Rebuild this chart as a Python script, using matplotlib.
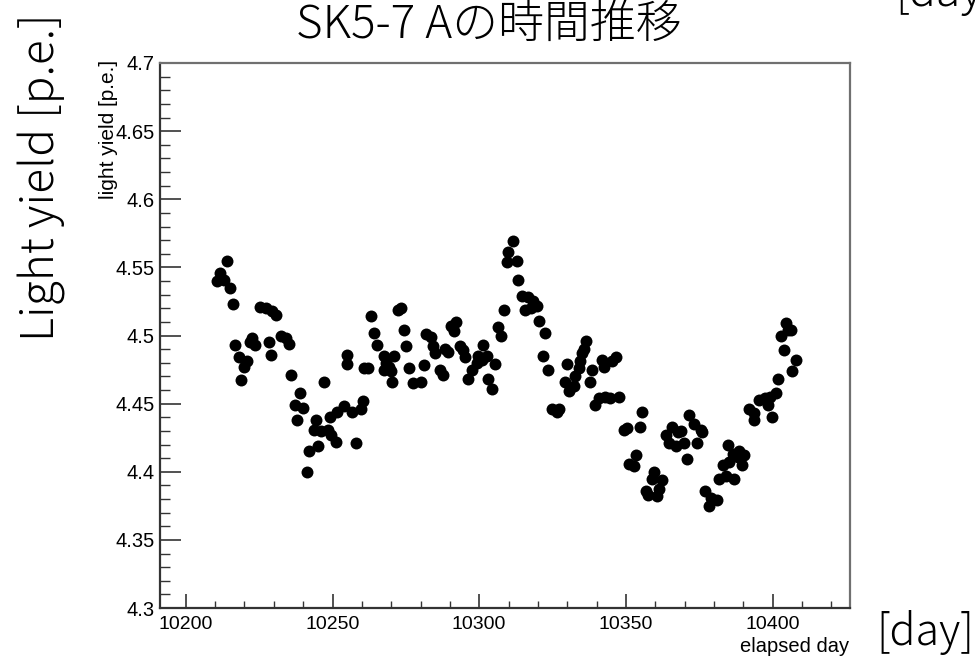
import matplotlib
matplotlib.use("Agg")
import matplotlib.pyplot as plt
from matplotlib.ticker import MultipleLocator, FuncFormatter

# elapsed day / light yield [p.e.] per measurement
days = [
    10210.6, 10211.7, 10213.1, 10214.0, 10214.9, 10216.0, 10216.9, 10218.0, 10218.8, 10219.7,
    10220.9, 10222.0, 10222.6, 10223.7, 10225.2, 10227.2, 10228.3, 10228.9, 10229.5, 10230.9,
    10232.3, 10234.3, 10235.1, 10236.0, 10237.2, 10238.0, 10238.9, 10240.1, 10241.2, 10242.0,
    10243.7, 10244.3, 10245.1, 10246.0, 10247.1, 10248.3, 10249.2, 10249.4, 10251.1, 10251.7,
    10254.0, 10254.9, 10255.1, 10256.8, 10258.0, 10259.7, 10260.3, 10260.8, 10262.0, 10263.1,
    10264.0, 10265.2, 10267.5, 10267.7, 10268.3, 10269.4, 10270.0, 10270.2, 10271.1, 10272.3,
    10273.4, 10274.3, 10275.1, 10276.2, 10277.4, 10280.2, 10281.2, 10282.0, 10283.7, 10284.2,
    10284.8, 10286.5, 10287.7, 10288.2, 10289.4, 10290.5, 10291.4, 10292.2, 10293.4, 10294.5,
    10295.1, 10296.2, 10297.4, 10299.1, 10299.7, 10300.8, 10301.4, 10302.5, 10303.1, 10304.2,
    10305.3, 10306.5, 10307.4, 10308.6, 10309.4, 10309.9, 10311.6, 10312.8, 10313.4, 10314.5,
    10315.6, 10316.8, 10317.7, 10318.5, 10319.6, 10320.4, 10321.6, 10322.5, 10323.4, 10324.8,
    10326.5, 10327.3, 10329.3, 10329.9, 10330.5, 10332.2, 10332.7, 10333.9, 10334.5, 10335.0,
    10335.6, 10336.4, 10337.9, 10338.5, 10339.6, 10340.8, 10341.9, 10342.5, 10343.0, 10344.7,
    10345.3, 10346.7, 10347.6, 10349.3, 10350.4, 10351.0, 10352.7, 10353.5, 10354.7, 10355.6,
    10356.7, 10357.6, 10358.8, 10359.6, 10360.7, 10361.3, 10362.4, 10363.6, 10364.7, 10365.8,
    10367.0, 10367.6, 10368.7, 10369.9, 10370.7, 10371.6, 10373.3, 10374.4, 10375.5, 10376.1,
    10377.1, 10378.4, 10379.0, 10380.9, 10381.8, 10383.0, 10384.1, 10384.7, 10385.3, 10386.4,
    10387.0, 10388.1, 10388.7, 10389.6, 10390.4, 10392.1, 10393.8, 10393.8, 10395.5, 10397.3,
    10398.4, 10399.0, 10399.9, 10401.2, 10401.8, 10402.9, 10403.8, 10404.7, 10405.2, 10406.4,
    10406.7, 10407.9,
]
light_yield = [
    4.540, 4.546, 4.541, 4.555, 4.535, 4.523, 4.493, 4.484, 4.467, 4.477,
    4.481, 4.495, 4.498, 4.493, 4.521, 4.520, 4.495, 4.486, 4.518, 4.515,
    4.500, 4.498, 4.494, 4.471, 4.449, 4.438, 4.458, 4.447, 4.400, 4.415,
    4.431, 4.438, 4.419, 4.430, 4.466, 4.431, 4.440, 4.427, 4.422, 4.444,
    4.448, 4.479, 4.486, 4.444, 4.421, 4.446, 4.452, 4.476, 4.476, 4.514,
    4.502, 4.493, 4.475, 4.485, 4.480, 4.477, 4.474, 4.466, 4.485, 4.519,
    4.520, 4.504, 4.492, 4.476, 4.465, 4.466, 4.478, 4.501, 4.499, 4.492,
    4.487, 4.475, 4.471, 4.490, 4.488, 4.507, 4.503, 4.510, 4.492, 4.489,
    4.484, 4.468, 4.475, 4.480, 4.485, 4.482, 4.493, 4.485, 4.468, 4.461,
    4.479, 4.506, 4.500, 4.519, 4.554, 4.561, 4.569, 4.555, 4.541, 4.529,
    4.519, 4.528, 4.520, 4.525, 4.522, 4.511, 4.485, 4.502, 4.475, 4.446,
    4.444, 4.446, 4.466, 4.479, 4.459, 4.463, 4.470, 4.476, 4.481, 4.487,
    4.490, 4.496, 4.466, 4.475, 4.449, 4.454, 4.482, 4.477, 4.455, 4.454,
    4.481, 4.484, 4.455, 4.431, 4.432, 4.406, 4.404, 4.412, 4.433, 4.444,
    4.386, 4.383, 4.395, 4.400, 4.382, 4.387, 4.394, 4.427, 4.421, 4.433,
    4.419, 4.429, 4.430, 4.421, 4.409, 4.442, 4.435, 4.421, 4.431, 4.429,
    4.386, 4.375, 4.381, 4.379, 4.395, 4.405, 4.397, 4.420, 4.407, 4.413,
    4.395, 4.411, 4.415, 4.405, 4.412, 4.446, 4.443, 4.438, 4.453, 4.454,
    4.449, 4.455, 4.440, 4.458, 4.468, 4.500, 4.489, 4.509, 4.504, 4.504,
    4.474, 4.482,
]

x_ticks = [10200, 10250, 10300, 10350, 10400]

W, H = 975, 663
fig = plt.figure(figsize=(W / 100, H / 100), dpi=100)
ax = fig.add_axes([160 / W, 1 - 608 / H, 690 / W, 545 / H])

ax.plot(days, light_yield, "o", color="black", markersize=8.6, markeredgewidth=0)

ax.set_xlim(10191.2, 10426.4)
ax.set_ylim(4.3, 4.7)
ax.set_xticks(x_ticks)
ax.xaxis.set_minor_locator(MultipleLocator(10))
ax.yaxis.set_major_locator(MultipleLocator(0.05))
ax.yaxis.set_minor_locator(MultipleLocator(0.01))
ax.yaxis.set_major_formatter(FuncFormatter(lambda v, _: "%g" % round(v, 2)))

root_font = "Liberation Sans"
ax.tick_params(axis="x", which="major", direction="in", length=10, width=1.2,
               color="#333333", pad=6, labelsize=14, labelfontfamily=root_font)
ax.tick_params(axis="x", which="minor", direction="in", length=5, width=1.0, color="#333333")
ax.tick_params(axis="y", which="major", direction="in", length=15, width=1.2,
               color="#333333", pad=4, labelsize=14.5, labelfontfamily=root_font)
ax.tick_params(axis="y", which="minor", direction="in", length=7.5, width=1.0, color="#333333")

for side in ["left", "bottom"]:
    ax.spines[side].set_color("#333333")
    ax.spines[side].set_linewidth(1.6)
for side in ["top", "right"]:
    ax.spines[side].set_color("#707070")
    ax.spines[side].set_linewidth(1.6)

# ROOT-style axis titles
fig.text(109 / W, 1 - 60 / H, "light yield [p.e.]", rotation=90, ha="center", va="top",
         fontsize=15, family=root_font)
fig.text(849 / W, 1 - 647 / H, "elapsed day", ha="right", va="center",
         fontsize=14.5, family=root_font)

# slide annotations
jp = ["Noto Sans CJK JP", "DejaVu Sans"]
fig.text(489 / W, 1 - 25 / H, "SK5-7 Aの時間推移", ha="center", va="center",
         fontsize=33, family=jp, weight="light")
fig.text(42 / W, 1 - 177 / H, "Light yield [p.e.]", rotation=90, ha="center", va="center",
         fontsize=33, family=jp, weight="light")
fig.text(925 / W, 1 - 645 / H, "[day]", ha="center", va="baseline",
         fontsize=31, family=jp, weight="light")
fig.text(946 / W, 1 - 6 / H, "[day]", ha="center", va="baseline",
         fontsize=32, family=jp, weight="light")

fig.savefig("out.png", dpi=100)
